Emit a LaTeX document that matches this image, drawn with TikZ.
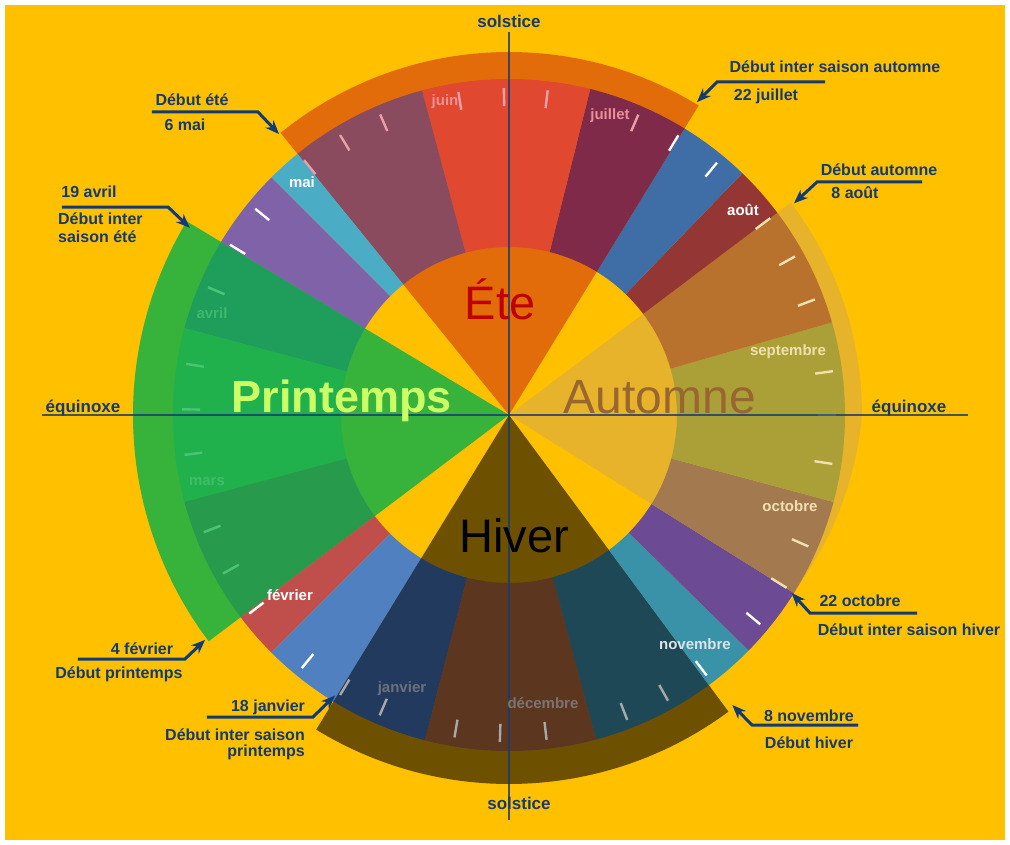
\documentclass[tikz,border=0pt]{standalone}
\usepackage{fontspec}
\setmainfont{Liberation Sans}
\usetikzlibrary{arrows.meta,calc,positioning}

\definecolor{bgyel}{HTML}{FFC000}
\definecolor{navy}{HTML}{143A72}
\definecolor{eteC}{HTML}{E36C0A}
\definecolor{priC}{HTML}{37B23B}
\definecolor{autC}{HTML}{E6B32A}
\definecolor{hivC}{HTML}{6D5100}
\definecolor{mTealDk}{HTML}{1F4856}
\definecolor{mCyanDk}{HTML}{3A92A8}
\definecolor{mPurpDk}{HTML}{6C4A94}
\definecolor{mTan}{HTML}{A37A50}
\definecolor{mOlive}{HTML}{ABA038}
\definecolor{mOrBr}{HTML}{B8722E}
\definecolor{mDkRed}{HTML}{943634}
\definecolor{mBlue}{HTML}{3F6DA5}
\definecolor{mMaroon}{HTML}{7E2A48}
\definecolor{mRedOr}{HTML}{E04830}
\definecolor{mMauve}{HTML}{8A4B5E}
\definecolor{mCyan}{HTML}{4BACC6}
\definecolor{mPurp}{HTML}{7F62A8}
\definecolor{mGrTeal}{HTML}{1E9E5A}
\definecolor{mGrLt}{HTML}{20B14D}
\definecolor{mGrDk}{HTML}{279B4B}
\definecolor{mRed}{HTML}{C04F4C}
\definecolor{mBlueLt}{HTML}{5080C0}
\definecolor{mNavy}{HTML}{223A5E}
\definecolor{mBrown}{HTML}{5C361E}
\definecolor{tkPink}{HTML}{E8A0A8}
\definecolor{tkCream}{HTML}{F0E0B0}
\definecolor{tkGrey}{HTML}{A8A8A8}
\definecolor{tkGreen}{HTML}{4CC476}

\tikzset{
  dlabel/.style  = {font=\fontsize{16}{18}\selectfont\bfseries, text=navy,
                    inner sep=0pt, anchor=base},
  mlabel/.style  = {font=\fontsize{15}{17}\selectfont\bfseries, inner sep=0pt},
  sname/.style   = {inner sep=0pt, anchor=base},
  callout/.style = {-{Stealth[length=14pt,width=11pt]}, line width=3pt, navy},
  axisline/.style= {line width=2.6pt, navy, opacity=.8},
  wk/.style      = {line width=2.4pt},
}

\newcommand{\ringpart}[5]{%
  \fill[fill=#1] (#2:#4) arc[start angle=#2, end angle=#3, radius=#4]
    -- (#3:#5) arc[start angle=#3, end angle=#2, radius=#5] -- cycle;}
\newcommand{\wedgepart}[4]{%
  \fill[fill=#1] (0,0) -- (#2:#4) arc[start angle=#2, end angle=#3, radius=#4] -- cycle;}

\begin{document}
\begin{tikzpicture}[x=1pt,y=1pt]
  \useasboundingbox (-509,-429) rectangle (501,415);
  \fill[white] (-509,-429) rectangle (501,415);
  \fill[bgyel] (-504,-425) rectangle (496,410);

  % seasons
  \wedgepart{eteC}{58.5}{129}{363}
  \wedgepart{priC}{149}{217}{376}
  \wedgepart{hivC}{238.5}{306.5}{369}
  \fill[autC] (0,0) -- plot[domain=-32:37,samples=50] (\x:{353+18*min(\x,0)/32}) -- cycle;

  % month ring
  \foreach \a/\b/\c in {-75/-53.5/mTealDk, -53.5/-44.5/mCyanDk, -44.5/-32/mPurpDk,
      -32/-15/mTan, -15/16/mOlive, 16/37/mOrBr, 37/46/mDkRed, 46/58.5/mBlue,
      58.5/76/mMaroon, 76/105/mRedOr, 105/129/mMauve, 129/135/mCyan, 135/149/mPurp,
      149/165/mGrTeal, 165/195/mGrLt, 195/217/mGrDk, 217/225/mRed,
      225/238.5/mBlueLt, 238.5/255.5/mNavy, 255.5/285/mBrown}
    {\ringpart{\c}{\a}{\b}{168}{336}}

  % weeks
  \foreach \t/\c in {217.4/white, 230.7/white, 140.9/white, 148.6/white, 58.8/white,
      50.5/white, -39.8/white, -52.8/white,
      128.8/tkPink, 121.1/tkPink, 113.2/tkPink, 98.9/tkPink, 90.9/tkPink, 83.2/tkPink, 66.7/tkPink,
      37/tkCream, 29/tkCream, 20.7/tkCream, 7.7/tkCream, 0/tkCream, -8.6/tkCream, -23.7/tkCream, -31.9/tkCream,
      -60.9/tkGrey, -68.8/tkGrey, -83.4/tkGrey, -91.6/tkGrey, -99.6/tkGrey, -113.3/tkGrey, -121.1/tkGrey,
      157/tkGreen, 171/tkGreen, 179/tkGreen, 187/tkGreen, 201/tkGreen, 209/tkGreen}
    {\draw[wk, draw=\c] (\t:309) -- (\t:327);}

  % axes
  \coordinate (axN) at (0,383);
  \coordinate (axS) at (0,-405);
  \coordinate (axW) at (-467,0);
  \coordinate (axE) at (459,0);
  \draw[axisline] (axN) -- (axS);
  \draw[axisline] (axW) -- (axE);

  % month names
  \node[mlabel, text=tkPink!90!red] (juin) at (-64,313) {juin};
  \node[mlabel, text=tkPink!90!red] (juillet) at (101,299) {juillet};
  \node[mlabel, text=white] (mai) at (-207,233) {mai};
  \node[mlabel, text=white] (aout) at (234,205) {août};
  \node[mlabel, text=tkCream] (sept) at (279,63) {septembre};
  \node[mlabel, text=tkCream] (oct) at (281,-91) {octobre};
  \node[mlabel, text=white!85!mTealDk] (nov) at (186,-229) {novembre};
  \node[mlabel, text=gray!85!mBrown] (dec) at (34,-288) {décembre};
  \node[mlabel, text=gray!80!mNavy] (jan) at (-107,-274) {janvier};
  \node[mlabel, text=white] (fev) at (-219,-180) {février};
  \node[mlabel, text=tkGreen!70!mGrLt] (mars) at (-302,-67) {mars};
  \node[mlabel, text=tkGreen!70!mGrTeal] (avril) at (-297,102) {avril};

  % season names
  \node[sname, font=\fontsize{47}{50}\selectfont, text=red!75!black] (ete) at (-9,96) {Éte};
  \node[sname, font=\fontsize{45}{50}\selectfont\bfseries, text={rgb,255:red,204;green,255;blue,102}] (printemps) at (-167,3) {Printemps};
  \node[sname, font=\fontsize{48}{50}\selectfont, text={rgb,255:red,154;green,102;blue,48}] (automne) at (151,2) {Automne};
  \node[sname, font=\fontsize{47}{50}\selectfont, text=black] (hiver) at (5,-137) {Hiver};

  % axis labels
  \node[dlabel, font=\fontsize{17}{19}\selectfont\bfseries] (solTop) at (0,387) {solstice};
  \node[dlabel, font=\fontsize{17}{19}\selectfont\bfseries] (solBot) at (10,-394) {solstice};
  \node[dlabel, font=\fontsize{17}{19}\selectfont\bfseries] (eqW) at (-426,3) {équinoxe};
  \node[dlabel, font=\fontsize{17}{19}\selectfont\bfseries] (eqE) at (400,3) {équinoxe};

  % callouts
  \node[dlabel] (eteDeb) at (-317,309) {Début été};
  \node[dlabel] (eteDate) at (-324,284) {6 mai};
  \coordinate (ete1) at (-357,303);
  \coordinate (ete2) at (-251,303);
  \coordinate (ete3) at (129.3:363);
  \draw[callout] (ete1) -- (ete2) -- (ete3);

  \node[dlabel] (iasDeb) at (326,342) {Début inter saison automne};
  \node[dlabel] (iasDate) at (257,314) {22 juillet};
  \coordinate (ias1) at (316,333);
  \coordinate (ias2) at (208,333);
  \coordinate (ias3) at (59:365);
  \draw[callout] (ias1) -- (ias2) -- (ias3);

  \node[dlabel] (autDeb) at (370,239) {Début automne};
  \node[dlabel] (autDate) at (346,216) {8 août};
  \coordinate (aut1) at (413,233);
  \coordinate (aut2) at (308,233);
  \coordinate (aut3) at (36.6:355);
  \draw[callout] (aut1) -- (aut2) -- (aut3);

  \node[dlabel] (iseDate) at (-420,218) {19 avril};
  \node[dlabel, anchor=base west] (iseDeb) at (-451,190) {Début inter};
  \node[dlabel, anchor=base west] (iseDeb2) at (-451,173) {saison été};
  \coordinate (ise1) at (-447,208);
  \coordinate (ise2) at (-341,208);
  \coordinate (ise3) at (149.6:370);
  \draw[callout] (ise1) -- (ise2) -- (ise3);

  \node[dlabel] (ihvDate) at (351,-191) {22 octobre};
  \node[dlabel] (ihvDeb) at (400,-220) {Début inter saison hiver};
  \coordinate (ihv1) at (408,-198);
  \coordinate (ihv2) at (301,-198);
  \coordinate (ihv3) at (-32.2:334);
  \draw[callout] (ihv1) -- (ihv2) -- (ihv3);

  \node[dlabel] (hivDate) at (300,-306) {8 novembre};
  \node[dlabel] (hivDeb) at (300,-333) {Début hiver};
  \coordinate (hiv1) at (349,-310);
  \coordinate (hiv2) at (243,-310);
  \coordinate (hiv3) at (-52.4:366);
  \draw[callout] (hiv1) -- (hiv2) -- (hiv3);

  \node[dlabel] (iprDate) at (-241,-296) {18 janvier};
  \node[dlabel, anchor=base east] (iprDeb) at (-204,-325) {Début inter saison};
  \node[dlabel, anchor=base east] (iprDeb2) at (-204,-341) {printemps};
  \coordinate (ipr1) at (-302,-302);
  \coordinate (ipr2) at (-196,-302);
  \coordinate (ipr3) at (238.2:330);
  \draw[callout] (ipr1) -- (ipr2) -- (ipr3);

  \node[dlabel] (priDate) at (-367,-239) {4 février};
  \node[dlabel] (priDeb) at (-390,-263) {Début printemps};
  \coordinate (pri1) at (-431,-244);
  \coordinate (pri2) at (-324,-244);
  \coordinate (pri3) at (216.5:378);
  \draw[callout] (pri1) -- (pri2) -- (pri3);
\end{tikzpicture}
\end{document}
